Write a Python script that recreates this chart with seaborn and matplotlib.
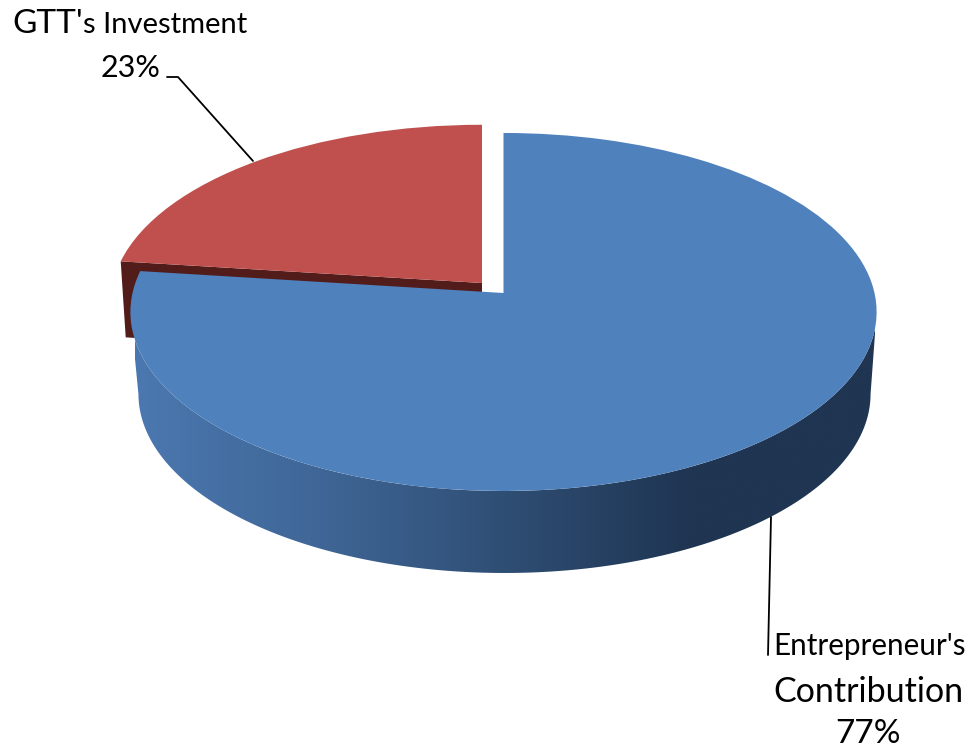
import matplotlib
matplotlib.use('Agg')
import matplotlib.pyplot as plt
import numpy as np
import seaborn as sns
from matplotlib.patches import Polygon
from matplotlib.transforms import Transform

# values
categories = ["Entrepreneur's Contribution", "GTT's Investment"]
shares = [77, 23]
slice_colors = ['#4f81bd', '#c0504d']
wall_stops = ['#4b78b0', '#3f6696', '#2f4e74', '#1f3552', '#1f3552']

sns.set_theme(style='white')
plt.rcParams['font.family'] = ['Lato', 'DejaVu Sans']


class Perspective(Transform):
    """Tilts the unit circle of a pie into a perspective ellipse (pixels)."""
    input_dims = 2
    output_dims = 2

    def __init__(self, cx, cy, rx, ry, k=0.106):
        super().__init__()
        self.cx, self.cy, self.rx, self.ry, self.k = cx, cy, rx, ry, k

    def transform_non_affine(self, values):
        x, y = np.asarray(values).T
        w = 1 + self.k * y
        return np.column_stack((self.cx + self.rx * x / w, self.cy - self.ry * y / w))


def arc_points(persp, theta1, theta2, n=200):
    t = np.radians(np.linspace(theta1, theta2, n))
    return persp.transform_non_affine(np.column_stack((np.cos(t), np.sin(t))))


fig = plt.figure(figsize=(9.7, 7.5), dpi=100)
ax = fig.add_axes([0, 0, 1, 1])

blue_top = Perspective(503.5, 293, 371, 177)
blue_floor = Perspective(504.5, 375, 364, 177)
red_top = Perspective(482, 283, 369, 175)

wedges, _ = ax.pie(shares, colors=slice_colors, startangle=90, counterclock=False,
                   wedgeprops={'linewidth': 0})
blue, red = wedges

# dark inner side of the pulled out slice, under the red top
end = arc_points(red_top, red.theta2, red.theta2, 1)[0]
apex = red_top.transform_non_affine(np.array([[0.0, 0.0]]))[0]
red_wall = Polygon([apex, end, end + [5, 76], apex + [0, 76]], closed=True,
                   facecolor='#521c1a', edgecolor='none', zorder=0.5)
ax.add_patch(red_wall)

# side wall of the blue slice, shaded from left to right, between the widest points
outline = np.vstack((arc_points(blue_top, 186.1, 353.9),
                     arc_points(blue_floor, 353.9, 186.1)))
clip = Polygon(outline, closed=True, transform=ax.transData, facecolor='none', edgecolor='none')
ax.add_patch(clip)
grad = ax.imshow(np.linspace(0, 1, 256)[None, :], extent=(135, 875, 600, 300), aspect='auto',
                 cmap=sns.blend_palette(wall_stops, as_cmap=True), zorder=0.8)
grad.set_clip_path(clip)

red.set_transform(red_top + ax.transData)
blue.set_transform(blue_top + ax.transData)
red.set_zorder(2)
blue.set_zorder(3)

ax.set_xlim(0, 970)
ax.set_ylim(750, 0)
ax.set_aspect('auto')
ax.axis('off')

# leader lines
ax.plot([167, 178, 253], [77, 77, 161], color='black', lw=1.3, zorder=4)
ax.plot([771, 768], [517, 655], color='black', lw=1.3, zorder=4)

# labels, the first words are larger than the rest in the source
text_kw = dict(color='black', va='baseline', zorder=5)
ax.text(12, 33, "GTT'", fontsize=24, **text_kw)
ax.text(83, 33, "s Investment", fontsize=21, **text_kw)
ax.text(131, 77, f"{shares[1]}%", fontsize=22, ha='center', **text_kw)
ax.text(773, 655, "Entrepreneur's", fontsize=21.3, **text_kw)
ax.text(868, 702, "Contribution", fontsize=24.5, ha='center', **text_kw)
ax.text(868, 743, f"{shares[0]}%", fontsize=24, ha='center', **text_kw)

fig.savefig('out.png', dpi=100, facecolor='white')
plt.close(fig)
